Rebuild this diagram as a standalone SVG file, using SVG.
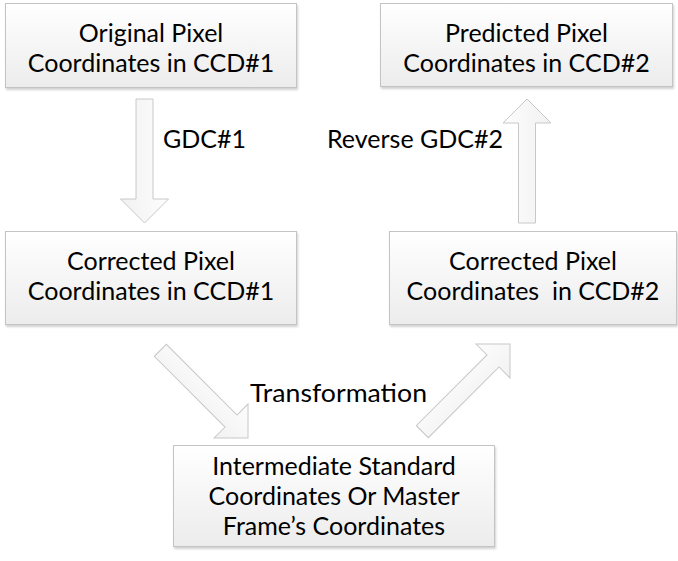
<svg xmlns="http://www.w3.org/2000/svg" width="678" height="561" viewBox="0 0 678 561">
<defs>
<linearGradient id="boxg" x1="0" y1="0" x2="0" y2="1">
<stop offset="0" stop-color="#ffffff"/>
<stop offset="1" stop-color="#ececec"/>
</linearGradient>
<linearGradient id="arrg" x1="0" y1="0" x2="1" y2="0">
<stop offset="0" stop-color="#fdfdfd"/>
<stop offset="1" stop-color="#f1f1f1"/>
</linearGradient>
<path id="arrow" d="M0,0 L24,24 L8.5,24 L8.5,124 L-8.5,124 L-8.5,24 L-24,24 Z"/>
<filter id="sh" x="-5%" y="-5%" width="110%" height="115%">
<feDropShadow dx="1" dy="2" stdDeviation="1.2" flood-color="#000" flood-opacity="0.18"/>
</filter>
</defs>
<style>
.box{fill:url(#boxg);stroke:#c4c4c4;stroke-width:1;filter:url(#sh)}
.arr{fill:url(#arrg);stroke:#c8c8c8;stroke-width:1}
text{font-family:Lato,"Open Sans","Liberation Sans",sans-serif;font-size:25px;fill:#000}
.c{text-anchor:middle}
</style>
<rect width="678" height="561" fill="#ffffff"/>
<g id="connectors">
<use href="#arrow" class="arr" transform="translate(144.5,223) rotate(180)"/>
<use href="#arrow" class="arr" transform="translate(527,99)"/>
<use href="#arrow" class="arr" transform="translate(248,438) rotate(135)"/>
<use href="#arrow" class="arr" transform="translate(510,344) rotate(45)"/>
<text x="163" y="148">GDC#1</text>
<text x="327" y="148">Reverse GDC#2</text>
<text x="250" y="402" textLength="177" lengthAdjust="spacingAndGlyphs">Transformation</text>
</g>
<g id="n1">
<rect class="box" x="5.5" y="3.5" width="291" height="84"/>
<text class="c" x="151" y="42">Original Pixel</text>
<text class="c" x="151" y="72">Coordinates in CCD#1</text>
</g>
<g id="n2">
<rect class="box" x="380.5" y="3.5" width="292" height="83"/>
<text class="c" x="526.5" y="42">Predicted Pixel</text>
<text class="c" x="526.5" y="72">Coordinates in CCD#2</text>
</g>
<g id="n3">
<rect class="box" x="5.5" y="231.5" width="291" height="93"/>
<text class="c" x="151" y="270">Corrected Pixel</text>
<text class="c" x="151" y="300">Coordinates in CCD#1</text>
</g>
<g id="n4">
<rect class="box" x="389.5" y="231.5" width="287" height="93"/>
<text class="c" x="533" y="270">Corrected Pixel</text>
<text class="c" x="533" y="300" xml:space="preserve">Coordinates  in CCD#2</text>
</g>
<g id="n5">
<rect class="box" x="173.5" y="445.5" width="321" height="101"/>
<text class="c" x="334" y="475">Intermediate Standard</text>
<text class="c" x="334" y="505">Coordinates Or Master</text>
<text class="c" x="334" y="535">Frame’s Coordinates</text>
</g>
</svg>
